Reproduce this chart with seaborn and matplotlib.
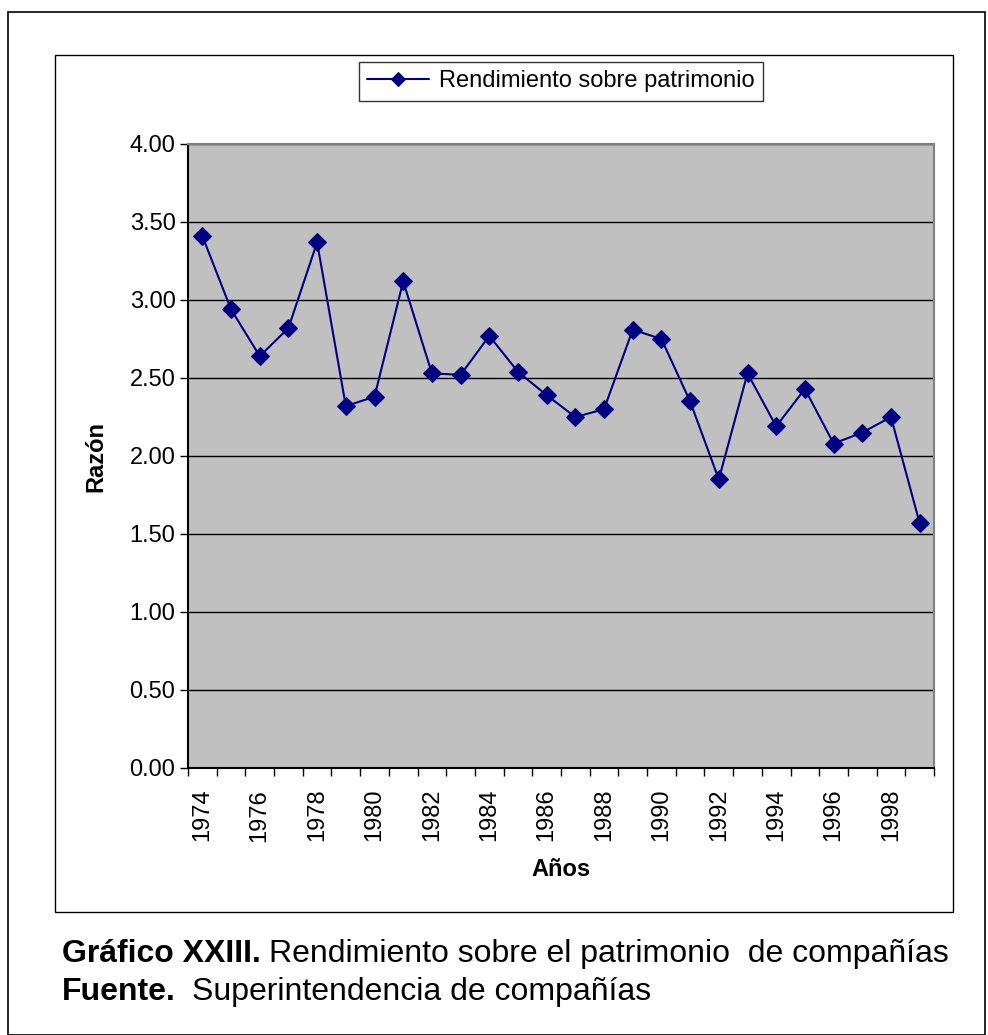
import numpy as np
import pandas as pd
import seaborn as sns
import matplotlib.pyplot as plt
import matplotlib.ticker as ticker
from matplotlib.patches import Rectangle

years = list(range(1974, 2000))
rendimiento = [3.41, 2.94, 2.64, 2.82, 3.37, 2.32, 2.38, 3.12, 2.53, 2.52,
               2.77, 2.54, 2.39, 2.25, 2.30, 2.81, 2.75, 2.35, 1.85, 2.53,
               2.19, 2.43, 2.08, 2.15, 2.25, 1.57]
serie = "Rendimiento sobre patrimonio"

df = pd.DataFrame({"Años": years, "Razón": rendimiento})

sns.set_style("white")
plt.rcParams['font.family'] = ['Liberation Sans', 'DejaVu Sans']
for k in ['text.color', 'axes.labelcolor', 'xtick.color', 'ytick.color']:
    plt.rcParams[k] = 'black'

fig = plt.figure(figsize=(9.88, 10.35), dpi=100)
W, H = 988, 1035

# outer frame and chart box
fig.patches.append(Rectangle((8/W, 0), (985-8)/W, 1-12/H, transform=fig.transFigure,
                             fill=False, edgecolor='black', linewidth=1.2))
fig.patches.append(Rectangle((55/W, 1-912/H), (953-55)/W, (912-55)/H, transform=fig.transFigure,
                             fill=False, edgecolor='black', linewidth=1.0))

ax = fig.add_axes([188/W, 1-768/H, (934-188)/W, (768-144)/H])
ax.set_facecolor('#C0C0C0')

sns.lineplot(data=df, x="Años", y="Razón", ax=ax, color='#000080', marker='D',
             markersize=9.5, markeredgecolor='#000080', linewidth=1.5, label=serie)

ax.set_xlim(1973.5, 1999.5)
ax.set_ylim(0, 4)
ax.yaxis.set_major_locator(ticker.MultipleLocator(0.5))
ax.yaxis.set_major_formatter(ticker.FormatStrFormatter('%.2f'))
ax.grid(axis='y', color='black', linewidth=1.0)
ax.set_axisbelow(True)

ax.xaxis.set_major_locator(ticker.FixedLocator(years[::2]))
ax.xaxis.set_major_formatter(ticker.FormatStrFormatter('%d'))
ax.xaxis.set_minor_locator(ticker.FixedLocator(np.arange(1973.5, 2000, 1)))
ax.tick_params(axis='x', which='major', length=0, labelsize=17, rotation=90, pad=15)
ax.tick_params(axis='x', which='minor', length=6, width=1, color='black', direction='out', bottom=True)
ax.tick_params(axis='y', length=6, width=1, color='black', direction='out', labelsize=17, left=True, pad=3)

for s in ax.spines.values():
    s.set_color('#808080')
    s.set_linewidth(1.5)
ax.spines['left'].set_color('black')
ax.spines['bottom'].set_color('black')

ax.set_xlabel("")
ax.set_ylabel("")
fig.text(561/W, 1-876/H, "Años", fontsize=17, fontweight='bold', ha='center', va='baseline')
fig.text(96/W, 1-457/H, "Razón", fontsize=17, fontweight='bold', ha='center', va='center', rotation=90)

leg = ax.legend(loc='center', bbox_to_anchor=(561/W, 1-81.5/H), bbox_transform=fig.transFigure,
                frameon=True, fancybox=False, fontsize=17, handlelength=2.6, handletextpad=0.45,
                borderpad=0.36, borderaxespad=0, edgecolor='black', markerscale=0.7)
leg.get_frame().set_linewidth(1.0)

fig.text(62/W, 1-962/H, "Gráfico XXIII.", fontsize=23, fontweight='bold', va='baseline')
fig.text(269/W, 1-962/H, "Rendimiento sobre el patrimonio  de compañías", fontsize=23, va='baseline')
fig.text(62/W, 1-1000/H, "Fuente.", fontsize=23, fontweight='bold', va='baseline')
fig.text(192/W, 1-1000/H, "Superintendencia de compañías", fontsize=23, va='baseline')

fig.savefig("out.png", dpi=100)
